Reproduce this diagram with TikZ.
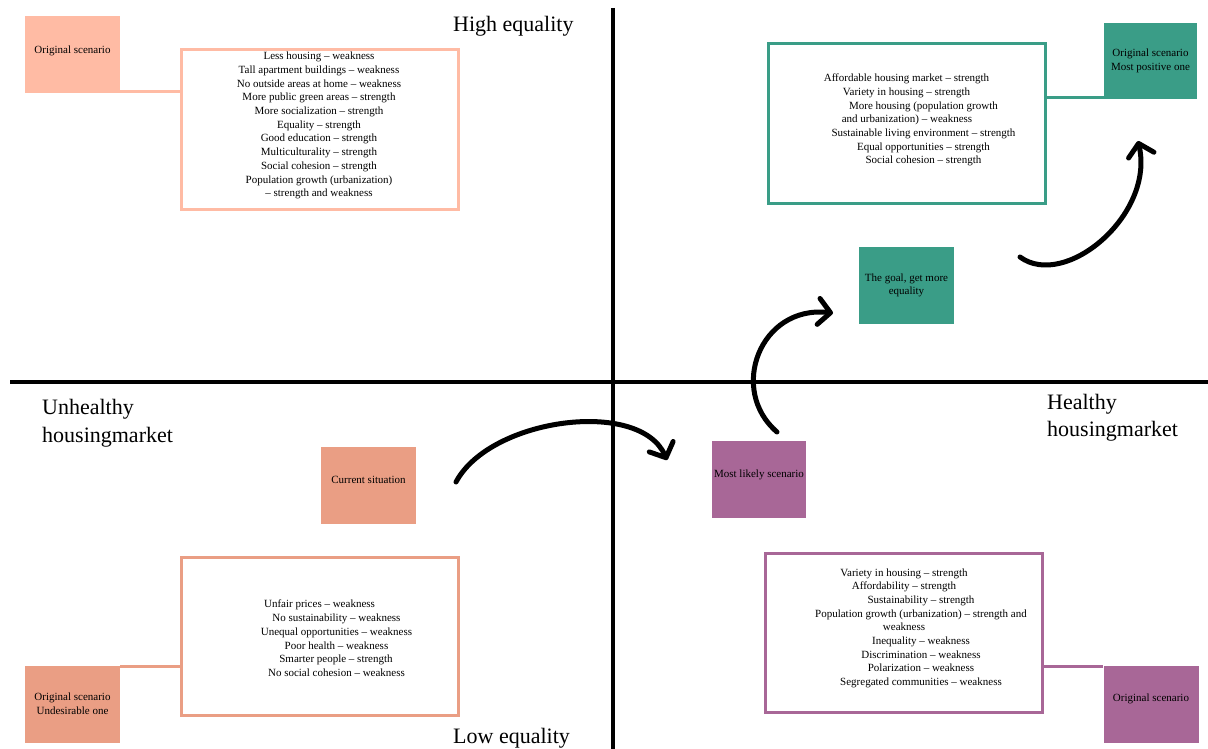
\documentclass[tikz,border=0pt]{standalone}
\usepackage{fontspec}
\setmainfont{Liberation Serif}
\usetikzlibrary{arrows.meta}
\definecolor{tlcol}{HTML}{FFBBA4}
\definecolor{blcol}{HTML}{EA9E84}
\definecolor{grn}{HTML}{3A9D87}
\definecolor{pur}{HTML}{A86797}
\newcommand\upshift[2]{\raisebox{#1}[\height][\depth]{#2}}
\begin{document}
\begin{tikzpicture}[x=1pt,y=-1pt,
  sq/.style={minimum width=95pt,minimum height=77pt,inner sep=0pt,align=center,font=\fontsize{11}{13.7}\selectfont},
  frame/.style={draw,line width=3pt,minimum width=277pt,minimum height=159pt,inner sep=0pt},
  txt/.style={inner sep=0pt,anchor=mid,font=\fontsize{11}{13.7}\selectfont},
  big/.style={inner sep=0pt,anchor=base west,font=\fontsize{22}{26}\selectfont},
  axisline/.style={line width=4pt},
  conn/.style={line width=3pt},
  bigarrow/.style={line width=5pt,line cap=round,-{Straight Barb[length=12pt,width=26pt,round]}}]
\useasboundingbox (0,0) rectangle (1208,749);
% axes
\coordinate (vtop) at (613,8);
\coordinate (vbot) at (613,749);
\coordinate (hl) at (10,382);
\coordinate (hr) at (1208,382);
\draw[axisline] (vtop) -- (vbot);
\draw[axisline] (hl) -- (hr);
% axis labels
\node[big] (high) at (453,32) {High equality};
\node[big] (low) at (453,743) {Low equality};
\node[big] (unh1) at (42,414) {Unhealthy};
\node[big] (unh2) at (42,442) {housingmarket};
\node[big] (hea1) at (1047,409) {Healthy};
\node[big] (hea2) at (1047,436) {housingmarket};
% top left
\node[sq,fill=tlcol] (tlsq) at (72.5,54.5) {\upshift{4pt}{Original scenario}};
\node[frame,draw=tlcol] (tlbox) at (319.5,129.5) {};
\draw[conn,tlcol] ([yshift=1.5pt]tlsq.south east) -- ([yshift=1.5pt]tlsq.south east -| tlbox.west);
\foreach \t [count=\i] in {Less housing – weakness,Tall apartment buildings – weakness,No outside areas at home – weakness,More public green areas – strength,More socialization – strength,Equality – strength,Good education – strength,Multiculturality – strength,Social cohesion – strength,Population growth (urbanization),– strength and weakness}
  \node[txt] (tl\i) at (319,{57.5+13.7*(\i-1)}) {\t};
% top right
\node[sq,fill=grn,minimum width=93pt,minimum height=76pt] (trsq) at (1150.5,61) {Original scenario\\Most positive one};
\node[frame,draw=grn] (trbox) at (906.5,123.5) {};
\draw[conn,grn] ([yshift=1.5pt]trsq.south west) -- ([yshift=1.5pt]trsq.south west -| trbox.east);
\foreach \x/\y/\t [count=\i] in {906.5/79.5/Affordable housing market – strength,906.5/93.5/Variety in housing – strength,923.5/107.5/More housing (population growth,907/120.5/and urbanization) – weakness,923.5/134.5/Sustainable living environment – strength,923.5/148.5/Equal opportunities – strength,923.5/161.5/Social cohesion – strength}
  \node[txt] (tr\i) at (\x,\y) {\t};
% bottom left
\node[sq,fill=blcol] (blsq) at (72.5,704) {Original scenario\\Undesirable one};
\node[frame,draw=blcol,minimum height=158pt] (blbox) at (319.5,636) {};
\draw[conn,blcol] ([yshift=-1.5pt]blsq.north east) -- ([yshift=-1.5pt]blsq.north east -| blbox.west);
\foreach \x/\y/\t [count=\i] in {319.5/605.5/Unfair prices – weakness,336.5/619.5/No sustainability – weakness,336.5/633.5/Unequal opportunities – weakness,336.5/647.5/Poor health – weakness,336/660.5/Smarter people – strength,336.5/674.5/No social cohesion – weakness}
  \node[txt] (bl\i) at (\x,\y) {\t};
% bottom right
\node[sq,fill=pur] (brsq) at (1151,704) {\upshift{5pt}{Original scenario}};
\node[frame,draw=pur] (brbox) at (903.5,632.5) {};
\draw[conn,pur] ([yshift=-1.5pt]brsq.north west) -- ([yshift=-1.5pt]brsq.north west -| brbox.east);
\foreach \x/\y/\t [count=\i] in {904/574.5/Variety in housing – strength,904/587.5/Affordability – strength,921/601.5/Sustainability – strength,921/615.5/Population growth (urbanization) – strength and,904/628.5/weakness,921/642.5/Inequality – weakness,921/656.5/Discrimination – weakness,921/669.5/Polarization – weakness,921/683.5/Segregated communities – weakness}
  \node[txt] (br\i) at (\x,\y) {\t};
% middle squares
\node[sq,fill=blcol] (cur) at (368.5,485) {\upshift{5pt}{Current situation}};
\node[sq,fill=pur,minimum width=94pt] (likely) at (759,479.5) {\upshift{5pt}{Most likely scenario}};
\node[sq,fill=grn] (goal) at (906.5,285.5) {The goal, get more\\equality};
% arrows
\coordinate (a1s) at (456,482);
\coordinate (a1e) at (667,460);
\coordinate (a2s) at (777,432);
\coordinate (a2e) at (833,313);
\coordinate (a3s) at (1020,257);
\coordinate (a3e) at (1138,141);
\draw[bigarrow] (a1s) .. controls (490,418) and (640,398) .. (a1e);
\draw[bigarrow] (a2s) .. controls (728,390) and (760,305) .. (a2e);
\draw[bigarrow] (a3s) .. controls (1065,290) and (1155,215) .. (a3e);
\end{tikzpicture}
\end{document}
